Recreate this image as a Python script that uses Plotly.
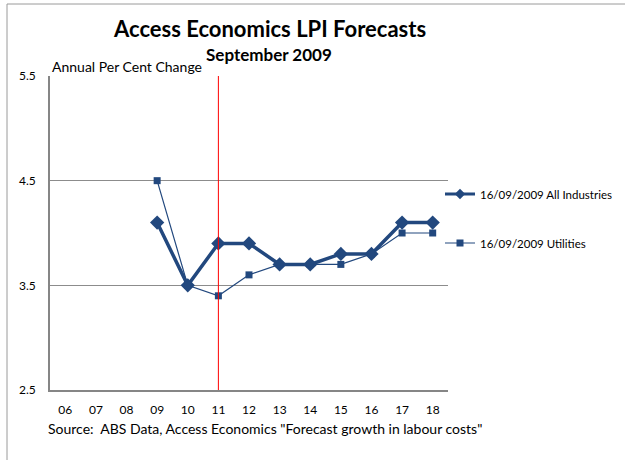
import plotly.graph_objects as go

years = ["06", "07", "08", "09", "10", "11", "12", "13", "14", "15", "16", "17", "18"]
all_ind = [None, None, None, 4.1, 3.5, 3.9, 3.9, 3.7, 3.7, 3.8, 3.8, 4.1, 4.1]
utilities = [None, None, None, 4.5, 3.5, 3.4, 3.6, 3.7, 3.7, 3.7, 3.8, 4.0, 4.0]
y_ticks = [2.5, 3.5, 4.5, 5.5]
forecast_start = "11"

W, H = 625, 460
L, R, T, B = 50, 177, 76, 70
pw, ph = W - L - R, H - T - B

def px(x):
    return (x - L) / pw

def py(y):
    return (H - B - y) / ph

FONT = "Lato"
BLUE = "#22487E"

fig = go.Figure()
fig.add_trace(go.Scatter(
    x=years, y=all_ind, mode="lines+markers", name="16/09/2009 All Industries",
    line=dict(color=BLUE, width=3.5), marker=dict(symbol="diamond", size=11, color=BLUE),
    showlegend=False))
fig.add_trace(go.Scatter(
    x=years, y=utilities, mode="lines+markers", name="16/09/2009 Utilities",
    line=dict(color=BLUE, width=1.2), marker=dict(symbol="square", size=7, color=BLUE),
    showlegend=False))
# legend entries (smaller markers, as in the reference legend)
fig.add_trace(go.Scatter(
    x=[None], y=[None], mode="lines+markers", name="16/09/2009 All Industries",
    line=dict(color=BLUE, width=3), marker=dict(symbol="diamond", size=8, color=BLUE),
    legend="legend"))
fig.add_trace(go.Scatter(
    x=[None], y=[None], mode="lines+markers", name="16/09/2009 Utilities",
    line=dict(color=BLUE, width=1.2), marker=dict(symbol="square", size=7, color=BLUE),
    legend="legend2"))

# forecast start line (category index of forecast_start)
xi = years.index(forecast_start)
fig.add_shape(type="line", xref="x", yref="paper", x0=xi, x1=xi,
              y0=0, y1=1, line=dict(color="#FF0000", width=1), layer="above")
# outer frame
fig.add_shape(type="rect", xref="paper", yref="paper", x0=px(7), x1=px(720), y0=py(4), y1=py(520),
              line=dict(color="#9A9A9A", width=1), fillcolor="rgba(0,0,0,0)")

fig.update_layout(
    width=W, height=H, margin=dict(l=L, r=R, t=T, b=B, autoexpand=False),
    paper_bgcolor="white", plot_bgcolor="white",
    font=dict(family=FONT, size=12, color="black"),
    showlegend=True,
    legend=dict(x=px(440), y=py(194), xanchor="left", yanchor="middle",
                font=dict(size=11.5, family=FONT), bgcolor="rgba(0,0,0,0)"),
    legend2=dict(x=px(440), y=py(243), xanchor="left", yanchor="middle",
                 font=dict(size=11.5, family=FONT), bgcolor="rgba(0,0,0,0)"),
    xaxis=dict(type="category", categoryorder="array", categoryarray=years,
               range=[-0.5, len(years) - 0.5], showgrid=False,
               showline=True, linecolor="#868686", linewidth=2,
               ticks="outside", ticklen=8, tickcolor="rgba(0,0,0,0)",
               tickfont=dict(size=12, family=FONT), zeroline=False),
    yaxis=dict(range=[2.5, 5.5], tickvals=y_ticks, ticktext=[f"{v:.1f}" for v in y_ticks],
               showgrid=True, gridcolor="#8C8C8C", gridwidth=1,
               showline=True, linecolor="#868686", linewidth=1.5,
               ticks="outside", ticklen=10, tickcolor="rgba(0,0,0,0)",
               tickfont=dict(size=12, family=FONT), zeroline=False),
    annotations=[
        dict(text="<b>Access Economics LPI Forecasts</b>", x=px(269), y=py(29), xref="paper", yref="paper",
             showarrow=False, font=dict(size=22, family=FONT), xanchor="center", yanchor="middle"),
        dict(text="<b>September 2009</b>", x=px(269), y=py(54), xref="paper", yref="paper",
             showarrow=False, font=dict(size=17, family=FONT), xanchor="center", yanchor="middle"),
        dict(text="Annual Per Cent Change", x=px(50), y=py(67), xref="paper", yref="paper",
             showarrow=False, font=dict(size=14, family=FONT), xanchor="left", yanchor="middle"),
        dict(text='Source:  ABS Data, Access Economics "Forecast growth in labour costs"',
             x=px(46), y=py(428), xref="paper", yref="paper",
             showarrow=False, font=dict(size=14, family=FONT), xanchor="left", yanchor="middle"),
    ],
)

fig.write_html("out.html")
